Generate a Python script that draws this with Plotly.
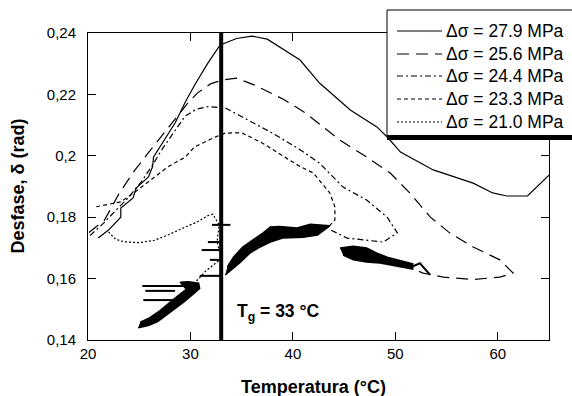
import plotly.graph_objects as go

# ---------------- data ----------------
series_labels = ["Δσ = 27.9 MPa", "Δσ = 25.6 MPa", "Δσ = 24.4 MPa", "Δσ = 23.3 MPa", "Δσ = 21.0 MPa"]

T_279 = [21.0, 22.0, 23.2, 23.2, 24.4, 24.7, 25.9, 26.3, 26.4, 27.4, 28.5, 29.5, 30.4, 31.7, 32.9,
         34.5, 36.0, 37.5, 38.7, 40.7, 42.6, 45.6, 48.2, 49.3, 50.5, 53.7, 57.6, 59.5, 60.9, 62.9, 65.0]
D_279 = [0.1732, 0.1758, 0.1800, 0.1830, 0.1863, 0.1895, 0.1931, 0.1964, 0.1996, 0.2051, 0.2107, 0.2175, 0.2230, 0.2302, 0.2361,
         0.2382, 0.2390, 0.2380, 0.2355, 0.2312, 0.2237, 0.2149, 0.2094, 0.2058, 0.2012, 0.1954, 0.1911, 0.1879, 0.1869, 0.1869, 0.1937]

T_256 = [20.1, 21.6, 23.0, 24.5, 25.9, 27.2, 28.5, 29.7, 30.7, 32.0, 33.3, 34.5, 36.3, 39.2, 41.2, 44.6, 47.2,
         49.5, 51.4, 53.4, 55.3, 57.6, 60.2, 61.5, 60.2, 57.6, 54.7, 52.7, 51.5]
D_256 = [0.1750, 0.1790, 0.1875, 0.1950, 0.2010, 0.2065, 0.2120, 0.2170, 0.2205, 0.2235, 0.2248, 0.2253, 0.2230, 0.2182, 0.2140, 0.2051, 0.1996,
         0.1944, 0.1879, 0.1801, 0.1749, 0.1703, 0.1661, 0.1618, 0.1605, 0.1597, 0.1605, 0.1618, 0.1635]

T_244 = [20.2, 21.5, 22.8, 24.0, 25.2, 26.3, 27.3, 28.5, 29.5, 30.6, 31.7, 33.4, 35.6, 38.0, 40.7, 42.6, 44.9,
         47.2, 49.2, 50.2, 48.8, 46.6, 45.3, 43.6]
D_244 = [0.1740, 0.1780, 0.1825, 0.1866, 0.1915, 0.1970, 0.2025, 0.2084, 0.2130, 0.2152, 0.2160, 0.2156, 0.2117, 0.2074, 0.2020, 0.1976, 0.1898,
         0.1856, 0.1800, 0.1749, 0.1719, 0.1726, 0.1732, 0.1760]

T_233 = [20.8, 22.0, 23.2, 24.7, 26.3, 27.8, 29.5, 30.4, 32.4, 33.4, 35.0, 37.0, 39.2, 40.7, 42.0, 43.6, 44.1, 44.1, 43.4, 42.0]
D_233 = [0.1834, 0.1842, 0.1850, 0.1885, 0.1925, 0.1964, 0.1996, 0.2029, 0.2061, 0.2074, 0.2075, 0.2042, 0.1996, 0.1965, 0.1944, 0.1879, 0.1834, 0.1791, 0.1765, 0.1758]

T_210 = [22.0, 22.7, 23.5, 25.0, 26.5, 28.0, 29.5, 30.7, 31.7, 32.2, 32.8, 32.6, 33.0, 31.5, 30.4]
D_210 = [0.1752, 0.1728, 0.1720, 0.1717, 0.1725, 0.1745, 0.1768, 0.1785, 0.1805, 0.1810, 0.1775, 0.1720, 0.1665, 0.1625, 0.1585]

# noisy (black) regions, outlined
blobA_T = [24.9, 25.9, 26.8, 27.6, 28.5, 29.4, 30.2, 30.9, 30.8, 29.8, 29.0, 29.6, 28.8, 27.9, 27.0, 26.0, 25.1]
blobA_D = [0.1440, 0.1447, 0.1460, 0.1480, 0.1500, 0.1525, 0.1548, 0.1568, 0.1585, 0.1590, 0.1588, 0.1565, 0.1545, 0.1520, 0.1495, 0.1472, 0.1458]
blobB_T = [33.4, 33.9, 34.8, 35.8, 36.8, 37.8, 39.0, 41.0, 42.4, 43.6, 41.7, 40.4, 38.7, 37.8, 37.1, 36.1, 35.1, 34.2, 33.6]
blobB_D = [0.1612, 0.1625, 0.1651, 0.1683, 0.1703, 0.1719, 0.1732, 0.1735, 0.1742, 0.1772, 0.1777, 0.1765, 0.1770, 0.1768, 0.1749, 0.1726, 0.1703, 0.1670, 0.1638]
blobC_T = [44.6, 45.9, 47.2, 48.2, 49.2, 50.2, 51.7, 51.7, 49.8, 48.5, 47.2, 45.9, 44.9]
blobC_D = [0.1700, 0.1705, 0.1700, 0.1683, 0.1670, 0.1661, 0.1648, 0.1631, 0.1644, 0.1651, 0.1654, 0.1661, 0.1677]

# noise spikes
spike_T = [25.3, 30.0, None, 25.6, 28.5, None, 25.4, 28.3, None,
           32.1, 33.9, None, 31.7, 33.1, None, 31.1, 32.9, None, 31.9, 33.1, None, 30.9, 33.1, None,
           51.7, 52.4, 53.4]
spike_D = [0.1576, 0.1576, None, 0.1560, 0.1560, None, 0.1530, 0.1530, None,
           0.1775, 0.1775, None, 0.1719, 0.1719, None, 0.1693, 0.1693, None, 0.1661, 0.1661, None, 0.1609, 0.1609, None,
           0.1640, 0.1650, 0.1612]

Tg = 33
y_range = [0.14, 0.24]
x_ticks = [20, 30, 40, 50, 60]
y_ticks = [0.14, 0.16, 0.18, 0.20, 0.22, 0.24]
y_ticktext = ["0,14", "0,16", "0,18", "0,2", "0,22", "0,24"]

# ---------------- figure ----------------
W, H = 572, 396
L, R, T, B = 88, 23, 33, 56
PW, PH = W - L - R, H - T - B
def pxx(p): return (p - L) / PW
def pxy(p): return (H - B - p) / PH

FONT = "Liberation Sans, Arial, sans-serif"
dashes = ["solid", "12px,7px", "6px,3px,2px,3px", "4px,3px", "2px,2px"]

fig = go.Figure()
for xs, ys, d in [(T_279, D_279, dashes[0]), (T_256, D_256, dashes[1]), (T_244, D_244, dashes[2]),
                  (T_233, D_233, dashes[3]), (T_210, D_210, dashes[4])]:
    fig.add_trace(go.Scatter(x=xs, y=ys, mode="lines", line=dict(color="black", width=1.2, dash=d),
                             showlegend=False, hoverinfo="skip"))

for bx, by in [(blobA_T, blobA_D), (blobB_T, blobB_D), (blobC_T, blobC_D)]:
    fig.add_trace(go.Scatter(x=bx, y=by, mode="lines", fill="toself", fillcolor="black",
                             line=dict(color="black", width=1.5), showlegend=False, hoverinfo="skip"))

fig.add_trace(go.Scatter(x=spike_T, y=spike_D, mode="lines", line=dict(color="black", width=2),
                         showlegend=False, hoverinfo="skip", connectgaps=False))

fig.add_trace(go.Scatter(x=[Tg, Tg], y=y_range, mode="lines", line=dict(color="black", width=4),
                         showlegend=False, hoverinfo="skip"))

shapes = []
# legend box
shapes.append(dict(type="rect", xref="paper", yref="paper", x0=pxx(387), x1=pxx(580), y0=pxy(136), y1=pxy(10),
                   line=dict(color="black", width=1), fillcolor="white", layer="above"))
shapes.append(dict(type="rect", xref="paper", yref="paper", x0=pxx(387), x1=pxx(580), y0=pxy(140), y1=pxy(135),
                   line=dict(width=0), fillcolor="black", layer="above"))
rows = [31, 54, 76, 99, 122]
annotations = []
for lab, d, ry in zip(series_labels, dashes, rows):
    shapes.append(dict(type="line", xref="paper", yref="paper", x0=pxx(397), x1=pxx(442), y0=pxy(ry), y1=pxy(ry),
                       line=dict(color="black", width=1.2, dash=d), layer="above"))
    annotations.append(dict(xref="paper", yref="paper", x=pxx(444), y=pxy(ry), text=lab, showarrow=False,
                            xanchor="left", yanchor="middle", font=dict(family=FONT, size=17.5, color="black")))

annotations.append(dict(x=Tg + 1.3, y=0.1491, text="<b>T<sub>g</sub> = 33 °C</b>", showarrow=False,
                        xanchor="left", yanchor="middle", font=dict(family=FONT, size=17.5, color="black")))
annotations.append(dict(xref="paper", yref="paper", x=0.49, y=pxy(387), text="<b>Temperatura (°C)</b>",
                        showarrow=False, xanchor="center", yanchor="middle",
                        font=dict(family=FONT, size=18, color="black")))
annotations.append(dict(xref="paper", yref="paper", x=pxx(17), y=0.5, text="<b>Desfase, δ (rad)</b>",
                        showarrow=False, xanchor="center", yanchor="middle", textangle=-90,
                        font=dict(family=FONT, size=18, color="black")))

fig.update_layout(
    width=W, height=H, margin=dict(l=L, r=R, t=T, b=B),
    paper_bgcolor="white", plot_bgcolor="white",
    shapes=shapes, annotations=annotations, showlegend=False,
    font=dict(family=FONT, color="black"),
)
fig.update_xaxes(range=[20, 65], tickvals=x_ticks, ticks="inside", ticklen=8, tickcolor="black",
                 showline=True, linecolor="black", linewidth=1, mirror="ticks", showgrid=False, zeroline=False,
                 tickfont=dict(family=FONT, size=15, color="black"), ticklabelstandoff=0)
fig.update_yaxes(range=y_range, tickvals=y_ticks, ticktext=y_ticktext, ticks="inside", ticklen=8, tickcolor="black",
                 showline=True, linecolor="black", linewidth=1, mirror="ticks", showgrid=False, zeroline=False,
                 tickfont=dict(family=FONT, size=15, color="black"), ticklabelstandoff=8)

fig.write_html("out.html")
